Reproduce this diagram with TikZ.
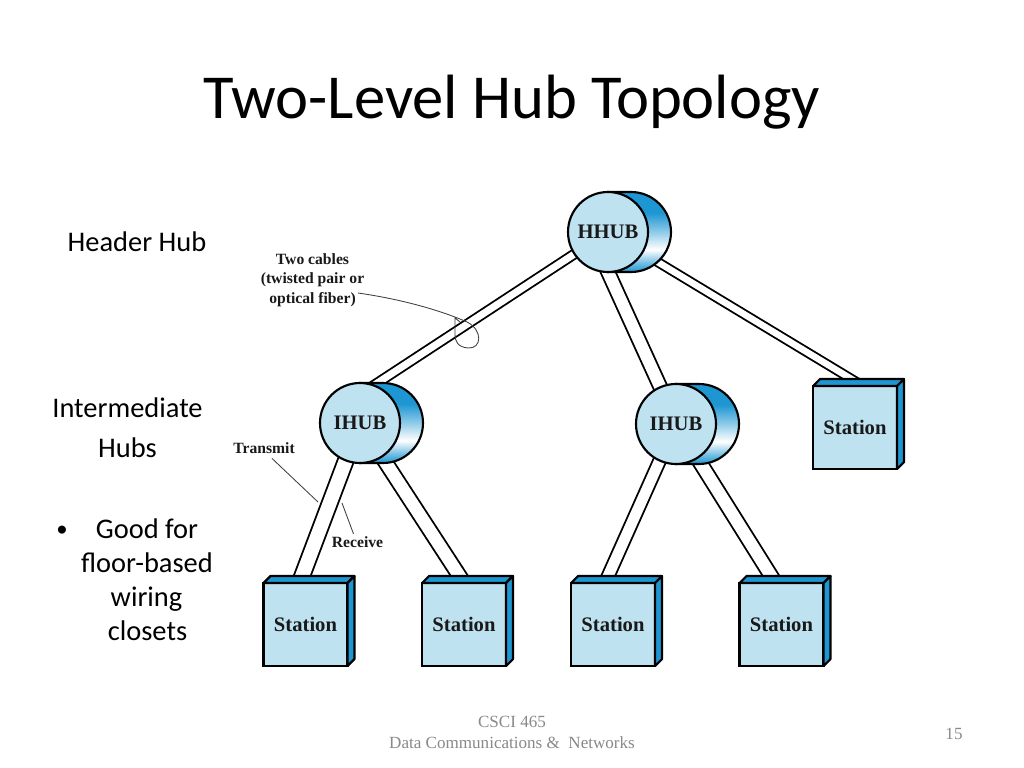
\documentclass[tikz,border=0pt]{standalone}
\usepackage{fontspec}
\setmainfont{Carlito}
\newfontfamily\tnr{Liberation Serif}
\usetikzlibrary{calc,backgrounds}
\definecolor{facebl}{RGB}{190,226,240}
\definecolor{sidebl}{RGB}{30,150,210}
\definecolor{footg}{RGB}{137,137,137}
\pgfdeclareverticalshading{crescent}{100bp}{color(0bp)=(sidebl); color(25bp)=(sidebl); color(31bp)=(sidebl!60!white); color(39bp)=(white); color(49bp)=(sidebl!45!white); color(62bp)=(sidebl); color(100bp)=(sidebl)}
\tikzset{
 hub/.style={circle, draw=black, line width=1.5pt, fill=facebl, minimum size=56.25pt, inner sep=0pt, outer sep=0pt, font=\tnr\bfseries\fontsize{14.5}{16}\selectfont, text=black!90},
 crescentfill/.style={draw=black, line width=1.5pt, shade, shading=crescent},
 stationbox/.style={rectangle, draw=black, line width=1.5pt, fill=facebl, minimum width=59.06pt, minimum height=58.36pt, inner sep=0pt, outer sep=0pt, font=\tnr\bfseries\fontsize{14.5}{16}\selectfont, text=black!90},
 sidefill/.style={draw=black, line width=1.5pt, fill=sidebl, line join=round},
 cable/.style={draw=black, line width=1.3pt, double=white, shorten <=-6pt, shorten >=-6pt},
 narrowcable/.style={cable, double distance=5pt},
 widecable/.style={cable, double distance=8.6pt},
 leader/.style={draw=black!75, line width=0.6pt},
 sidetext/.style={anchor=base, inner sep=0pt, font=\fontsize{20}{24}\selectfont},
 lbl/.style={anchor=base, inner sep=0pt, font=\tnr\bfseries\fontsize{11}{13.4}\selectfont, text=black!90},
 foot/.style={anchor=base, inner sep=0pt, text=footg, font=\tnr\fontsize{12}{14}\selectfont},
}
\newcommand\hubat[4]{%
 \draw[crescentfill] (#2,#3-40) -- (#2+23,#3-40) arc[start angle=90, end angle=-90, radius=28.125pt] -- (#2,#3+40) -- cycle;
 \node[hub] (#1) at (#2,#3) {#4};
}
\newcommand\stationat[3]{%
 \node[stationbox] (#1) at (#2,#3) {Station};
 \draw[sidefill] (#1.north west) -- ++(7,-7) -- ([shift={(7,-7)}]#1.north east) -- (#1.north east) -- cycle;
 \draw[sidefill] (#1.north east) -- ++(7,-7) -- ([shift={(7,-7)}]#1.south east) -- (#1.south east) -- cycle;
}
\begin{document}
\begin{tikzpicture}[x=0.703125pt,y=-0.703125pt]
\useasboundingbox (0,0) rectangle (1024,768);
% title
\node[anchor=base, inner sep=0pt, font=\fontsize{44}{53}\selectfont] (title) at (512,119) {Two-Level Hub Topology};
% side text
\node[sidetext] (hh) at (137,252) {Header Hub};
\node[sidetext] (im1) at (127.5,417) {Intermediate};
\node[sidetext] (im2) at (127.5,457) {Hubs};
\node[sidetext, font=\fontsize{16}{20}\selectfont] (bul) at (62,536) {•};
\node[sidetext] (g1) at (147,538) {Good for};
\node[sidetext] (g2) at (147,572) {floor-based};
\node[sidetext] (g3) at (146.5,606) {wiring};
\node[sidetext] (g4) at (147.5,640) {closets};
% hubs
\hubat{hhub}{608}{232}{HHUB}
\hubat{ihubL}{360}{423}{IHUB}
\hubat{ihubR}{676}{424}{IHUB}
% stations
\stationat{s1}{305.5}{624.5}
\stationat{s2}{464}{624.5}
\stationat{s3}{613}{624.5}
\stationat{s4}{781.5}{624.5}
\stationat{s5}{855}{427.5}
% cables
\begin{pgfonlayer}{background}
 \fill[white] (0,0) rectangle (1024,768);
 \draw[narrowcable] (hhub.center) -- (ihubL.70);
 \draw[widecable, double distance=8.4pt] (hhub.-90) -- (ihubR.113);
 \draw[narrowcable, double distance=4.6pt] (hhub.center) -- ($(s5.north)+(8,0)$);
 \draw[widecable, double distance=9.8pt] (ihubL.center) -- ($(s1.north)+(-6,0)$);
 \draw[widecable, double distance=8.8pt] (ihubL.center) -- (s2.north);
 \draw[widecable, double distance=7.6pt] (ihubR.center) -- ($(s3.north)+(-8,0)$);
 \draw[widecable] (ihubR.center) -- ($(s4.north)+(-6,0)$);
\end{pgfonlayer}
% labels and leaders
\node[lbl, align=center] (cab) at (312.5,303) {Two cables\\(twisted pair or\\optical fiber)};
\coordinate (cabtip) at (358,293);
\draw[leader] (cabtip) .. controls (400,299) and (440,310) .. (467,322) .. controls (483,330) and (482,349) .. (468,348) .. controls (458,347) and (455,342) .. (455,334) -- (455,318) -- (460,322);
\node[lbl] (tx) at (264,453) {Transmit};
\node[lbl] (rx) at (357.5,547) {Receive};
\coordinate (txtip) at (318,502);
\coordinate (rxtip) at (342,503);
\draw[leader] ($(tx.south)+(8,5)$) -- (txtip);
\draw[leader] (rxtip) -- ($(rx.north)+(-4,-2)$);
% footer
\node[foot] (f1) at (512,727) {CSCI 465};
\node[foot] (f2) at (512,748) {Data Communications \&\ \ Networks};
\node[foot] (f3) at (954,739) {15};
\end{tikzpicture}
\end{document}
